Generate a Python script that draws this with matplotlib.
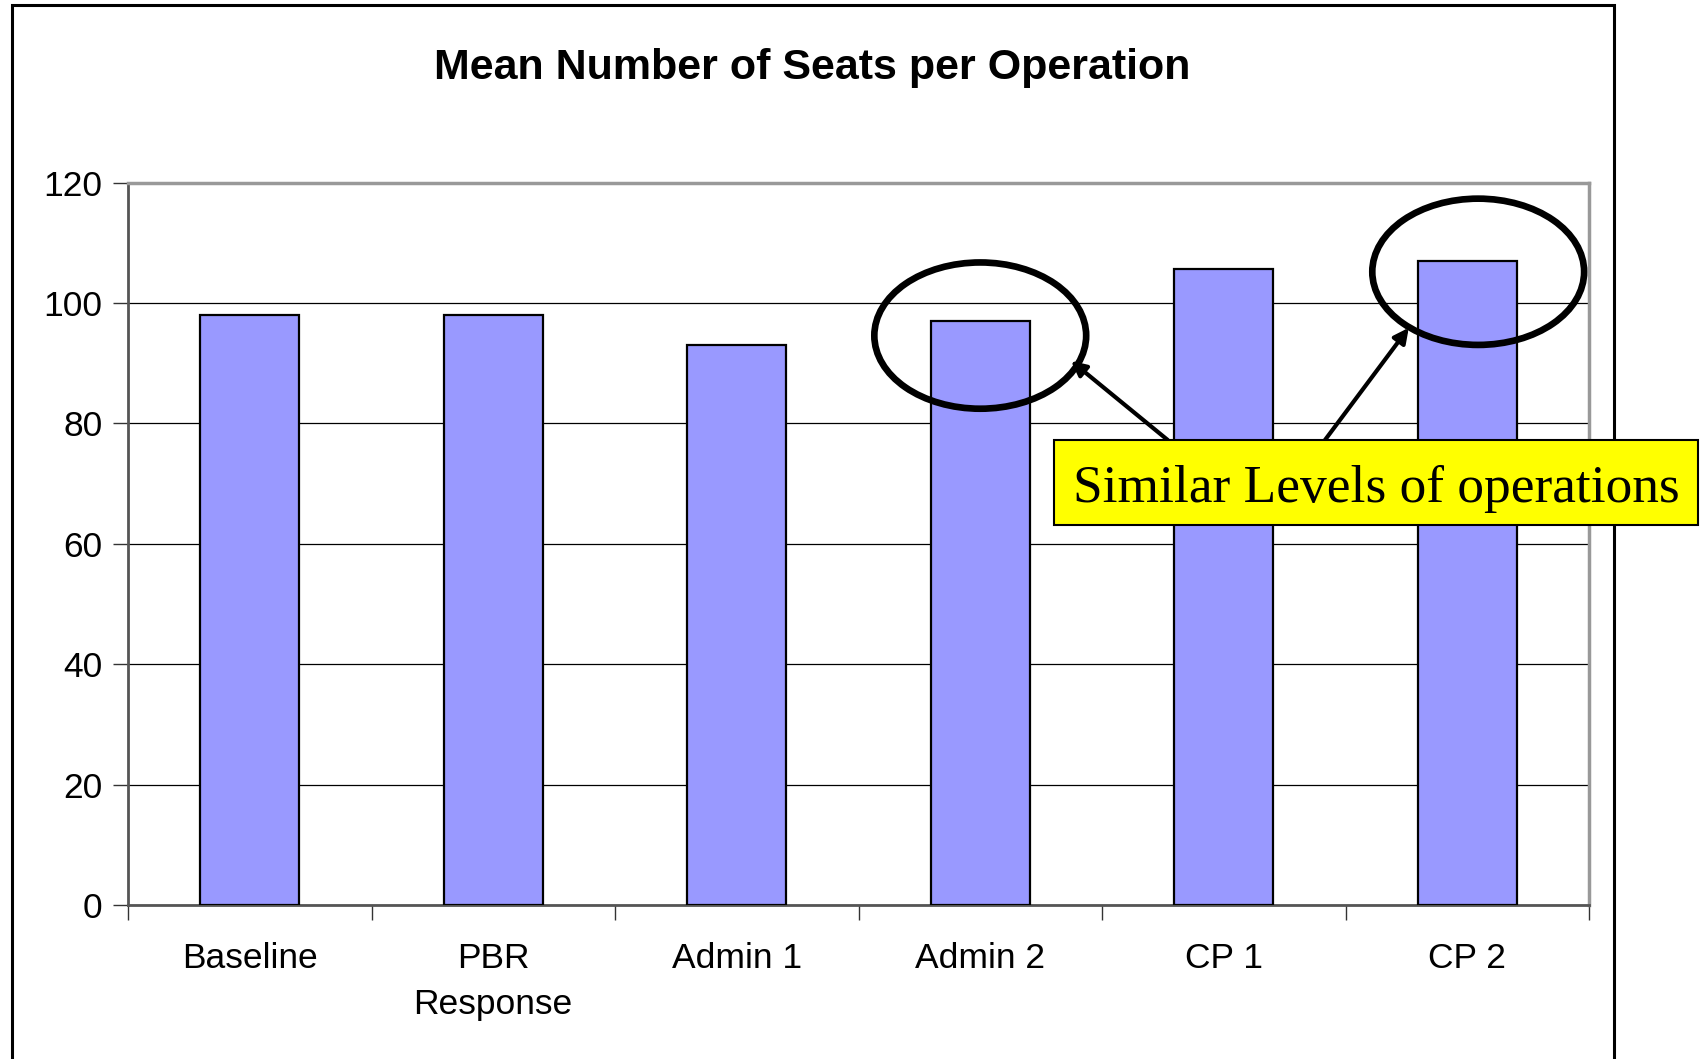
import matplotlib
matplotlib.use('Agg')
import matplotlib.pyplot as plt
from matplotlib.patches import Ellipse, Rectangle
import numpy as np

categories = ['Baseline', 'PBR\nResponse', 'Admin 1', 'Admin 2', 'CP 1', 'CP 2']
seats = [98, 98, 93, 97, 105.7, 107]
yticks = [0, 20, 40, 60, 80, 100, 120]
note = 'Similar Levels of operations'
circled = [3, 5]   # Admin 2 and CP 2

W, H = 1700, 1059
fig = plt.figure(figsize=(W / 100, H / 100), dpi=100)
fig.patch.set_facecolor('white')

# outer chart frame
fig.add_artist(Rectangle((12 / W, -0.05), (1614 - 12) / W, 1.05 - 4.5 / H,
                         transform=fig.transFigure, fill=False,
                         edgecolor='black', lw=2.2))

ax = fig.add_axes([128 / W, 1 - 905 / H, (1589 - 128) / W, (905 - 182.7) / H])
x = np.arange(len(categories))
ax.bar(x, seats, width=0.405, color='#9999FF', edgecolor='black', lw=1.6, zorder=3)

ax.set_xlim(-0.5, len(categories) - 0.5)
ax.set_ylim(0, 120)
ax.set_yticks(yticks)
ax.set_yticklabels([str(t) for t in yticks], fontsize=25.5, family='Liberation Sans')
ax.yaxis.grid(True, color='black', lw=0.9, zorder=0)

# category labels between boundary ticks
ax.set_xticks(np.arange(len(categories) + 1) - 0.5)
ax.set_xticklabels([])
ax.set_xticks(x, minor=True)
ax.set_xticklabels(categories, minor=True, fontsize=25.5, family='Liberation Sans',
                   linespacing=1.5)
ax.tick_params(axis='x', which='minor', length=0, pad=26.5)
ax.tick_params(axis='x', which='major', length=11, width=1, color='#333333')
ax.tick_params(axis='y', length=11, width=1, color='#333333', pad=7.5)

for s in ['left', 'bottom']:
    ax.spines[s].set_color('#555555')
    ax.spines[s].set_linewidth(2)
for s in ['top', 'right']:
    ax.spines[s].set_color('#999999')
    ax.spines[s].set_linewidth(2.5)
ax.spines['top'].set_zorder(4)

fig.text(812 / W, 1 - 68 / H, 'Mean Number of Seats per Operation',
         ha='center', va='center', fontsize=31, fontweight='bold',
         family='Liberation Sans')

# circles around the similar bars
offsets = {3: (0.0, -2.4), 5: (0.045, -1.8)}
for i in circled:
    dx, dy = offsets[i]
    ax.add_patch(Ellipse((x[i] + dx, seats[i] + dy), 0.87, 24.3,
                         fill=False, edgecolor='black', lw=4.8, zorder=5,
                         clip_on=False))

# yellow note box
bx0, bx1, by0, by1 = 1054 / W, 1698 / W, 1 - 525 / H, 1 - 440 / H
fig.add_artist(Rectangle((bx0, by0), bx1 - bx0, by1 - by0, transform=fig.transFigure,
                         facecolor='#FFFF00', edgecolor='black', lw=1.5, zorder=6))
fig.text((bx0 + bx1) / 2, (by0 + by1) / 2 - 0.006, note, ha='center', va='center',
         fontsize=38.4, family='Liberation Serif', zorder=7)

arrow = dict(arrowstyle='-|>', color='black', lw=3, mutation_scale=22,
             shrinkA=0, shrinkB=0)
ax.annotate('', xy=(3.373, 90.4), xycoords='data',
            xytext=(1167.7 / W, by1), textcoords='figure fraction',
            arrowprops=arrow, zorder=6)
ax.annotate('', xy=(4.76, 95.9), xycoords='data',
            xytext=(1325 / W, by1), textcoords='figure fraction',
            arrowprops=arrow, zorder=6)

fig.savefig('out.png', dpi=100)
